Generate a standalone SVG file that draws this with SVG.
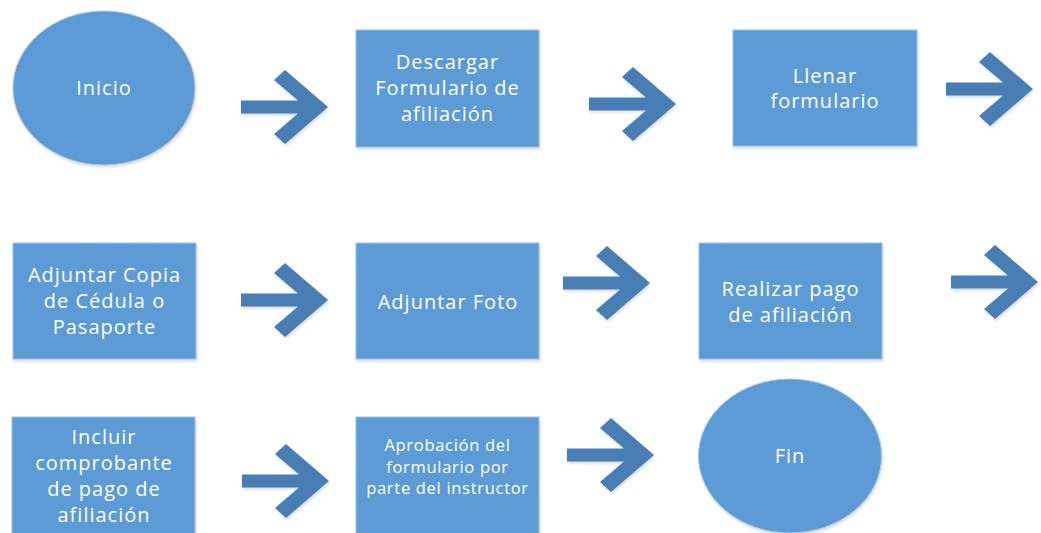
<svg xmlns="http://www.w3.org/2000/svg" width="1041" height="533" viewBox="0 0 1041 533">
<style>
.box{fill:#5b9bd5;stroke:#a8c2dc;stroke-width:1;filter:url(#sh)}
.term{fill:#5b9bd5;stroke:#b9c6d3;stroke-width:1;filter:url(#sh)}
.t{font-family:"Open Sans","Liberation Sans",sans-serif;font-size:20px;letter-spacing:1px;fill:#ffffff;text-anchor:middle}
.ts{font-family:"Open Sans","Liberation Sans",sans-serif;font-size:16.5px;letter-spacing:0.7px;fill:#ffffff;text-anchor:middle}
.arr{fill:#4a7eb5;filter:url(#sh)}
</style>
<defs>
<filter id="sh" x="-10%" y="-10%" width="125%" height="125%">
<feDropShadow dx="1" dy="2" stdDeviation="1.5" flood-color="#7f9cbd" flood-opacity="0.35"/>
</filter>
<polygon id="ar" points="-87,-6.5 -30,-6.5 -54,-27 -43,-37 0,0 -43,37 -54,27 -30,6.5 -87,6.5"/>
</defs>
<g id="connectors">
<use href="#ar" class="arr" transform="translate(328,107)"/>
<use href="#ar" class="arr" transform="translate(676,104)"/>
<use href="#ar" class="arr" transform="translate(1033,89)"/>
<use href="#ar" class="arr" transform="translate(328,300)"/>
<use href="#ar" class="arr" transform="translate(650,283)"/>
<use href="#ar" class="arr" transform="translate(1038,282)"/>
<use href="#ar" class="arr" transform="translate(329,481)"/>
<use href="#ar" class="arr" transform="translate(654,455)"/>
</g>
<g id="inicio">
<ellipse class="term" cx="104" cy="88" rx="91" ry="77"/>
<text class="t" x="104" y="95">Inicio</text>
</g>
<g id="descargar">
<rect class="box" x="356" y="30" width="183" height="117"/>
<text class="t" x="447.5" y="69">Descargar</text>
<text class="t" x="447.5" y="95">Formulario de</text>
<text class="t" x="447.5" y="121">afiliación</text>
</g>
<g id="llenar">
<rect class="box" x="733" y="30" width="184" height="116"/>
<text class="t" x="825" y="83">Llenar</text>
<text class="t" x="825" y="108">formulario</text>
</g>
<g id="copia">
<rect class="box" x="13" y="243" width="183" height="116"/>
<text class="t" x="104.5" y="282">Adjuntar Copia</text>
<text class="t" x="104.5" y="308">de Cédula o</text>
<text class="t" x="104.5" y="334">Pasaporte</text>
</g>
<g id="foto">
<rect class="box" x="356" y="243" width="183" height="116"/>
<text class="t" x="448" y="309">Adjuntar Foto</text>
</g>
<g id="pago">
<rect class="box" x="699" y="243" width="183" height="116"/>
<text class="t" x="790.5" y="296">Realizar pago</text>
<text class="t" x="790.5" y="322">de afiliación</text>
</g>
<g id="incluir">
<rect class="box" x="12" y="417" width="183" height="125"/>
<text class="t" x="104" y="444">Incluir</text>
<text class="t" x="104" y="470">comprobante</text>
<text class="t" x="104" y="496">de pago de</text>
<text class="t" x="104" y="522">afiliación</text>
</g>
<g id="aprobacion">
<rect class="box" x="356" y="417" width="183" height="125"/>
<text class="ts" x="447.5" y="451">Aprobación del</text>
<text class="ts" x="447.5" y="473">formulario por</text>
<text class="ts" x="447.5" y="494">parte del instructor</text>
</g>
<g id="fin">
<ellipse class="term" cx="790" cy="456" rx="91.5" ry="77"/>
<text class="t" x="790" y="463">Fin</text>
</g>
</svg>
